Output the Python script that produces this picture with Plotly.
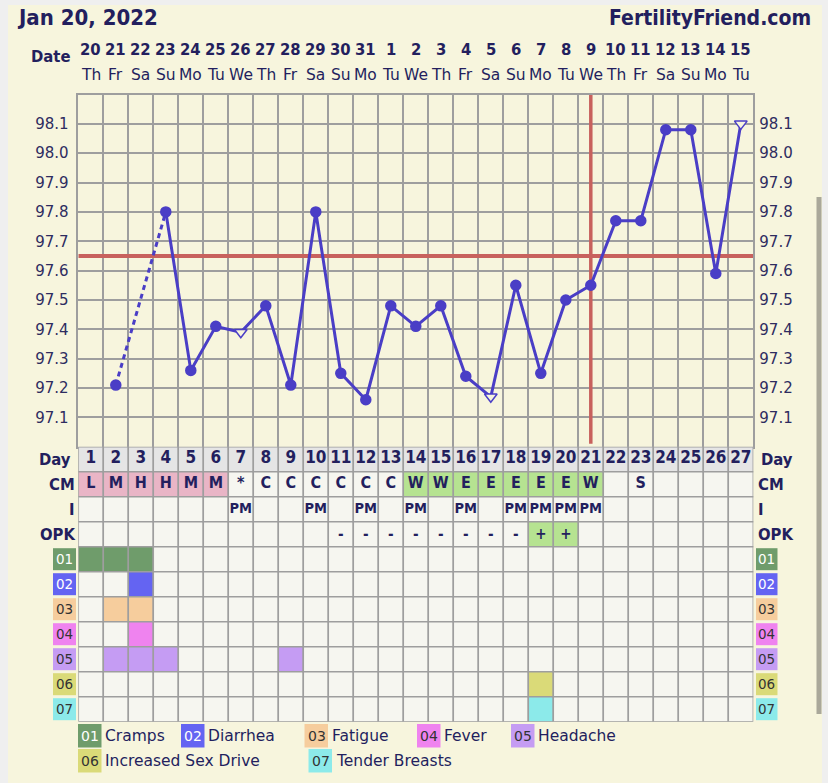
import plotly.graph_objects as go

W, H = 828, 783

# ---------------- data ----------------
days = list(range(1, 28))
dates = ["20", "21", "22", "23", "24", "25", "26", "27", "28", "29", "30", "31",
         "1", "2", "3", "4", "5", "6", "7", "8", "9", "10", "11", "12", "13", "14", "15"]
weekdays = ["Th", "Fr", "Sa", "Su", "Mo", "Tu", "We", "Th", "Fr", "Sa", "Su", "Mo",
            "Tu", "We", "Th", "Fr", "Sa", "Su", "Mo", "Tu", "We", "Th", "Fr", "Sa", "Su", "Mo", "Tu"]
temps = [None, 97.21, None, 97.80, 97.26, 97.41, 97.39, 97.48, 97.21, 97.80, 97.25, 97.16,
         97.48, 97.41, 97.48, 97.24, 97.17, 97.55, 97.25, 97.50, 97.55, 97.77, 97.77,
         98.08, 98.08, 97.59, 98.10]
discarded_days = [7, 17, 27]
coverline = 97.65
ovulation_day = 21
temp_ticks = [97.1, 97.2, 97.3, 97.4, 97.5, 97.6, 97.7, 97.8, 97.9, 98.0, 98.1]

cm = ["L", "M", "H", "H", "M", "M", "*", "C", "C", "C", "C", "C", "C", "W", "W",
      "E", "E", "E", "E", "E", "W", "", "S", "", "", "", ""]
intercourse = ["", "", "", "", "", "", "PM", "", "", "PM", "", "PM", "", "PM", "",
               "PM", "", "PM", "PM", "PM", "PM", "", "", "", "", "", ""]
opk = ["", "", "", "", "", "", "", "", "", "", "-", "-", "-", "-", "-", "-", "-", "-",
       "+", "+", "", "", "", "", "", "", ""]

symptom_codes = ["01", "02", "03", "04", "05", "06", "07"]
symptom_names = ["Cramps", "Diarrhea", "Fatigue", "Fever", "Headache",
                 "Increased Sex Drive", "Tender Breasts"]
symptom_days = [[1, 2, 3], [3], [2, 3], [3], [2, 3, 4, 9], [19], [19]]

header_date = "Jan 20, 2022"
site = "FertilityFriend.com"

# ---------------- styles ----------------
NAVY = "#231f5e"
TEMPC = "#2e2c60"
GRID = "#9e9e9e"
CREAM = "#f7f5dd"
PAGE = "#efefef"
BLUE = "#4a3ec6"
RED = "#c8615d"
DAYBG = "#e5e5e5"
CELL = "#f6f6f0"
PINK = "#e9b5c6"
GREEN = "#b6e391"
sym_colors = ["#6f9c6b", "#6464f2", "#f6cd9d", "#ef83ef", "#c59cf3", "#dada78", "#8ceaea"]
sym_text = ["white", "white", "#333333", "#333333", "#333333", "#333333", "#333333"]
COND = "DejaVu Sans Condensed, DejaVu Sans, sans-serif"
REG = "DejaVu Sans, Verdana, sans-serif"

def xp(px):
    return px / W

def yp(py):
    return 1 - py / H

GX0, GX1 = 78.3, 753.3
TY0, TY1 = 94.5, 446.7
TB0, TB1 = 446.7, 721.7
NROWS = 4 + len(symptom_codes)

fig = go.Figure()

# cover line and ovulation line (drawn first so temperature line sits above)
fig.add_trace(go.Scatter(x=[0.5, 27.5], y=[coverline, coverline], mode="lines",
                         line=dict(color=RED, width=4), hoverinfo="skip", showlegend=False,
                         xaxis="x", yaxis="y", cliponaxis=False))
fig.add_trace(go.Scatter(x=[ovulation_day, ovulation_day], y=[97.01, 98.205], mode="lines",
                         line=dict(color=RED, width=3.5), hoverinfo="skip", showlegend=False,
                         xaxis="x", yaxis="y", cliponaxis=False))

# temperature line (solid segments)
fig.add_trace(go.Scatter(
    x=days, y=temps, mode="lines", connectgaps=False,
    line=dict(color=BLUE, width=3), hoverinfo="skip", showlegend=False,
    xaxis="x", yaxis="y", cliponaxis=False))
# dashed bridges over missing temps
valid = [(d, t) for d, t in zip(days, temps) if t is not None]
for (d1, t1), (d2, t2) in zip(valid, valid[1:]):
    if d2 - d1 > 1:
        fig.add_trace(go.Scatter(
            x=[d1, d2], y=[t1, t2], mode="lines",
            line=dict(color=BLUE, width=3, dash="5px,4px"),
            hoverinfo="skip", showlegend=False, xaxis="x", yaxis="y"))
# markers
mx = [d for d, t in valid]
my = [t for d, t in valid]
symbols = ["triangle-down" if d in discarded_days else "circle" for d in mx]
mcol = [CREAM if d in discarded_days else BLUE for d in mx]
msize = [11 if d in discarded_days else 10 for d in mx]
fig.add_trace(go.Scatter(
    x=mx, y=my, mode="markers",
    marker=dict(symbol=symbols, color=mcol, size=msize, opacity=1,
                line=dict(color=BLUE, width=1.5)),
    hoverinfo="skip", showlegend=False, xaxis="x", yaxis="y", cliponaxis=False))
# empty trace so the right-hand temperature axis is drawn
fig.add_trace(go.Scatter(x=[None], y=[None], xaxis="x", yaxis="y3", showlegend=False))

shapes = []
# panel background
shapes.append(dict(type="rect", xref="paper", yref="paper", x0=xp(8), x1=xp(822),
                   y0=0, y1=yp(5), fillcolor=CREAM, line=dict(width=0), layer="below"))
# scrollbar
shapes.append(dict(type="rect", xref="paper", yref="paper", x0=xp(816.5), x1=xp(821.5),
                   y0=yp(714), y1=yp(197), fillcolor="#aaa89a", line=dict(width=0), layer="below"))

# table cells
def cell(day, row, color):
    shapes.append(dict(type="rect", xref="x2", yref="y2", x0=day - 0.5, x1=day + 0.5,
                       y0=row, y1=row + 1, fillcolor=color,
                       line=dict(color=GRID, width=1.5), layer="below"))

for i, d in enumerate(days):
    cell(d, 0, DAYBG)
    c = cm[i]
    cell(d, 1, PINK if c in ("L", "M", "H") else GREEN if c in ("W", "E") else CELL)
    cell(d, 2, CELL)
    cell(d, 3, GREEN if opk[i] == "+" else CELL)
    for s in range(len(symptom_codes)):
        cell(d, 4 + s, sym_colors[s] if d in symptom_days[s] else CELL)

annotations = []

# symptom code boxes left/right of table
for s, code in enumerate(symptom_codes):
    r = 4 + s
    for bx0, bx1 in ((53, 76), (756, 777.5)):
        shapes.append(dict(type="rect", xref="paper", yref="paper", x0=xp(bx0), x1=xp(bx1),
                           y0=yp(TB0 + 25 * r + 23.5), y1=yp(TB0 + 25 * r + 1.5),
                           fillcolor=sym_colors[s], line=dict(width=0), layer="below"))
        annotations.append(dict(xref="paper", yref="paper", x=xp((bx0 + bx1) / 2),
                                y=yp(TB0 + 25 * r + 12.5),
                                text=code, showarrow=False, xanchor="center", yanchor="middle",
                                font=dict(family=REG, size=13.5, color=sym_text[s])))

# legend
legend_pos = [(78, 724), (181, 724), (304.5, 724), (417, 724), (511, 724), (78, 749), (308.5, 749)]
for s, (lx, ly) in enumerate(legend_pos):
    shapes.append(dict(type="rect", xref="paper", yref="paper", x0=xp(lx), x1=xp(lx + 23.5),
                       y0=yp(ly + 23.5), y1=yp(ly), fillcolor=sym_colors[s],
                       line=dict(width=0), layer="below"))
    annotations.append(dict(xref="paper", yref="paper", x=xp(lx + 12), y=yp(ly + 12),
                            text=symptom_codes[s], showarrow=False, xanchor="center",
                            yanchor="middle", font=dict(family=REG, size=14, color=sym_text[s])))
    annotations.append(dict(xref="paper", yref="paper", x=xp(lx + 25), y=yp(ly + 11.5),
                            text=symptom_names[s], showarrow=False, xanchor="left",
                            yanchor="middle", font=dict(family=REG, size=15.5, color=NAVY)))

# header
annotations.append(dict(xref="paper", yref="paper", x=xp(15), y=yp(18), text="<b>" + header_date + "</b>",
                        showarrow=False, xanchor="left", yanchor="middle",
                        font=dict(family=COND, size=22, color=NAVY)))
annotations.append(dict(xref="paper", yref="paper", x=xp(813), y=yp(18), text="<b>" + site + "</b>",
                        showarrow=False, xanchor="right", yanchor="middle",
                        font=dict(family=COND, size=21, color=NAVY)))
annotations.append(dict(xref="paper", yref="paper", x=xp(73), y=yp(56), text="<b>Date</b>",
                        showarrow=False, xanchor="right", yanchor="middle",
                        font=dict(family=COND, size=16.5, color=NAVY)))
for d, dt, wd in zip(days, dates, weekdays):
    annotations.append(dict(xref="x", yref="paper", x=d, y=yp(49), text="<b>" + dt + "</b>",
                            showarrow=False, xanchor="center", yanchor="middle",
                            font=dict(family=COND, size=16.5, color=NAVY)))
    annotations.append(dict(xref="x", yref="paper", x=d, y=yp(75), text=wd,
                            showarrow=False, xanchor="center", yanchor="middle",
                            font=dict(family=REG, size=15.5, color=NAVY)))

# row labels
row_labels = ["Day", "CM", "I", "OPK"]
for r, lab in enumerate(row_labels):
    ymid = yp(TB0 + 25 * r + 12.5)
    annotations.append(dict(xref="paper", yref="paper", x=xp(72.5 if r == 0 else 77), y=ymid,
                            text="<b>" + lab + "</b>", showarrow=False, xanchor="right",
                            yanchor="middle", font=dict(family=COND, size=16.5, color=NAVY)))
    annotations.append(dict(xref="paper", yref="paper", x=xp(759 if r == 0 else 755.5), y=ymid,
                            text="<b>" + lab + "</b>", showarrow=False, xanchor="left",
                            yanchor="middle", font=dict(family=COND, size=16.5, color=NAVY)))

# table text traces
fig.add_trace(go.Scatter(x=days, y=[0.5] * 27, text=[str(d) for d in days], mode="text",
                         textfont=dict(family=COND, size=17, color=NAVY, weight="bold"),
                         xaxis="x2", yaxis="y2", hoverinfo="skip", showlegend=False))
fig.add_trace(go.Scatter(x=days, y=[1.5] * 27, text=cm, mode="text",
                         textfont=dict(family=COND, size=16, color=NAVY, weight="bold"),
                         xaxis="x2", yaxis="y2", hoverinfo="skip", showlegend=False))
fig.add_trace(go.Scatter(x=days, y=[2.5] * 27, text=intercourse, mode="text",
                         textfont=dict(family=COND, size=14.5, color=NAVY, weight="bold"),
                         xaxis="x2", yaxis="y2", hoverinfo="skip", showlegend=False))
fig.add_trace(go.Scatter(x=days, y=[3.55] * 27, text=opk, mode="text",
                         textfont=dict(family=COND, size=15, color=NAVY, weight="bold"),
                         xaxis="x2", yaxis="y2", hoverinfo="skip", showlegend=False))

bounds = [d - 0.5 for d in days] + [27.5]
fig.update_layout(
    width=W, height=H, autosize=False,
    margin=dict(l=0, r=0, t=0, b=0, pad=0),
    paper_bgcolor=PAGE, plot_bgcolor=CREAM,
    showlegend=False,
    xaxis=dict(domain=[xp(GX0), xp(GX1)], range=[0.5, 27.5], anchor="y",
               tickvals=bounds, showticklabels=False, ticks="", showgrid=True,
               gridcolor=GRID, gridwidth=1.5, zeroline=False,
               showline=True, mirror=True, linecolor=GRID, linewidth=1.5, fixedrange=True),
    yaxis=dict(domain=[yp(TY1), yp(TY0)], range=[97.0, 98.2], anchor="x",
               tickvals=temp_ticks, ticktext=[f"{v:.1f}" for v in temp_ticks],
               showgrid=True, gridcolor=GRID, gridwidth=1.5, zeroline=False, ticks="",
               ticklabelstandoff=5, tickfont=dict(family=REG, size=15, color=TEMPC),
               showline=True, mirror=True, linecolor=GRID, linewidth=1.5, fixedrange=True),
    yaxis3=dict(overlaying="y", side="right", anchor="x", range=[97.0, 98.2],
                tickvals=temp_ticks, ticktext=[f"{v:.1f}" for v in temp_ticks],
                showgrid=False, zeroline=False, ticks="", ticklabelstandoff=5,
                tickfont=dict(family=REG, size=15, color=TEMPC), fixedrange=True),
    xaxis2=dict(domain=[xp(GX0), xp(GX1)], range=[0.5, 27.5], anchor="y2", visible=False,
                fixedrange=True),
    yaxis2=dict(domain=[yp(TB1), yp(TB0)], range=[NROWS, 0], anchor="x2", visible=False,
                fixedrange=True),
    shapes=shapes,
    annotations=annotations,
)

fig.write_html("out.html", config={"displayModeBar": False},
               post_script="document.body.style.margin='0';document.body.style.overflow='hidden';")
